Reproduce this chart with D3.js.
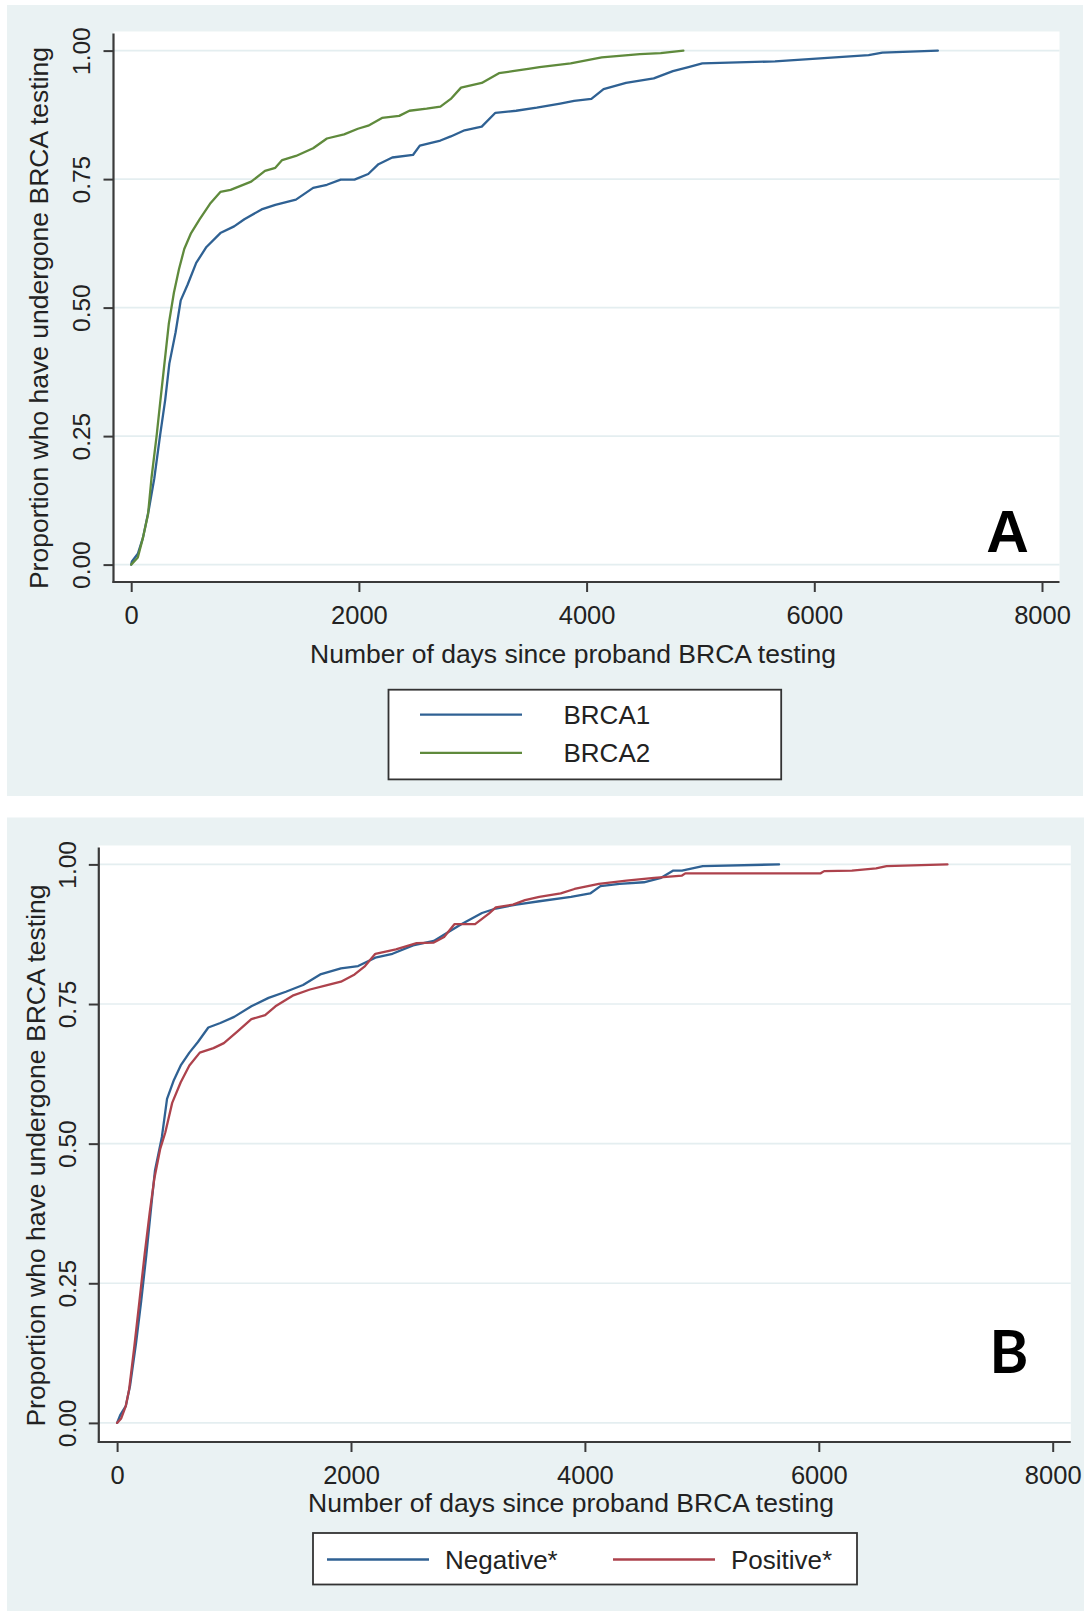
<!DOCTYPE html>
<html>
<head>
<meta charset="utf-8">
<script src="https://cdn.jsdelivr.net/npm/d3@7"></script>
<style>
  body { margin: 0; background: #fff; }
  svg { display: block; font-family: "Liberation Sans", Arial, sans-serif; }
</style>
</head>
<body>
<svg id="chart" width="1084" height="1611"></svg>
<script>
// Data: [days since proband testing, proportion tested]
let brca1 = [[0, 0], [6, .006], [58, .021], [103, .052], [154, .106], [203, .168], [254, .252], [299, .321], [335, .391], [390, .452], [435, .514], [496, .545], [571, .587], [661, .618], [783, .645], [904, .658], [994, .672], [1145, .691], [1266, .7], [1447, .71], [1598, .733], [1719, .739], [1840, .749], [1961, .749], [2082, .76], [2172, .779], [2293, .792], [2475, .797], [2535, .815], [2716, .825], [2807, .833], [2928, .845], [3079, .852], [3199, .879], [3381, .883], [3562, .889], [3768, .897], [3890, .902], [4042, .906], [4149, .925], [4346, .937], [4590, .946], [4758, .96], [4895, .968], [5016, .975], [5655, .979], [6051, .985], [6477, .991], [6598, .996], [7085, 1]]

let brca2 = [[0, 0], [58, .014], [103, .052], [148, .098], [178, .168], [224, .252], [254, .314], [284, .375], [330, .468], [375, .529], [420, .575], [466, .614], [526, .645], [602, .672], [692, .702], [783, .725], [873, .729], [1054, .745], [1175, .766], [1266, .772], [1326, .787], [1447, .795], [1598, .81], [1719, .829], [1870, .837], [1991, .848], [2082, .854], [2203, .869], [2354, .873], [2444, .883], [2595, .887], [2716, .891], [2807, .906], [2897, .928], [3079, .937], [3230, .956], [3351, .96], [3502, .965], [3586, .968], [3860, .975], [4133, .987], [4468, .993], [4651, .995], [4850, 1]]

let negative = [[0, 0], [29, .015], [74, .03], [112, .068], [162, .143], [206, .218], [250, .301], [294, .392], [324, .452], [383, .512], [427, .58], [486, .614], [544, .64], [618, .663], [691, .682], [780, .708], [883, .716], [1001, .727], [1148, .746], [1295, .761], [1443, .772], [1590, .784], [1737, .803], [1914, .814], [2061, .818], [2208, .833], [2355, .84], [2531, .855], [2708, .863], [2826, .878], [2943, .893], [3120, .913], [3238, .921], [3414, .928], [3610, .934], [3881, .942], [4045, .948], [4133, .961], [4297, .965], [4504, .968], [4652, .976], [4756, .989], [4830, .989], [4919, .993], [5008, .997], [5660, 1]]

let positive = [[0, 0], [35, .008], [74, .03], [103, .06], [147, .136], [191, .218], [235, .301], [279, .377], [318, .437], [368, .49], [412, .52], [471, .573], [544, .61], [618, .64], [707, .663], [824, .671], [913, .68], [1030, .701], [1148, .723], [1266, .73], [1354, .746], [1501, .765], [1649, .776], [1796, .784], [1914, .79], [2031, .803], [2120, .818], [2208, .84], [2384, .848], [2561, .859], [2708, .86], [2796, .87], [2884, .893], [3061, .893], [3179, .912], [3238, .923], [3385, .928], [3488, .936], [3610, .942], [3793, .948], [3911, .956], [4119, .965], [4355, .971], [4592, .976], [4830, .98], [4859, .984], [6016, .984], [6046, .988], [6283, .989], [6490, .993], [6579, .997], [7100, 1]]

let xTicks = [0, 2000, 4000, 6000, 8000]
let yTicks = [0, 0.25, 0.5, 0.75, 1]
let yTitle = 'Proportion who have undergone BRCA testing'
let xTitle = 'Number of days since proband BRCA testing'

let bgColor = '#eaf2f3'
let axisColor = '#3a3a3a'

let panels = [
  {
    tag: 'A',
    bg: [7, 5, 1076, 791],
    plot: [113.5, 31.5, 1059.5, 582],
    xRange: [131.2, 1042],
    yRange: [564.6, 50.6],
    yLabelX: 48,
    yLabelY: 318,
    yTickOffset: -23.5,
    xTitleX: 573,
    xTitleY: 662.7,
    tagX: 1007.5,
    tagY: 551.6,
    tagFont: '"Liberation Sans", Arial, sans-serif',
    legend: { box: [388.5, 689.7, 392.7, 89.7], layout: 'col' },
    series: [
      { name: 'BRCA1', data: brca1, color: '#2f6193' },
      { name: 'BRCA2', data: brca2, color: '#5f8a3c' }
    ]
  },
  {
    tag: 'B',
    bg: [7, 817.5, 1077, 793.5],
    plot: [98.8, 845.5, 1070.8, 1442],
    xRange: [117.1, 1052.7],
    yRange: [1422.9, 864.4],
    yLabelX: 45,
    yLabelY: 1155.5,
    yTickOffset: -23,
    xTitleX: 571,
    xTitleY: 1511.5,
    tagX: 1009,
    tagY: 1373.3,
    tagFont: 'Lato, "Open Sans", sans-serif',
    legend: { box: [313, 1533, 544, 51.5], layout: 'row' },
    series: [
      { name: 'Negative*', data: negative, color: '#2f6193' },
      { name: 'Positive*', data: positive, color: '#ad424c' }
    ]
  }
]

let svg = d3.select('#chart')

panels.forEach(p => {
  let g = svg.append('g').attr('class', 'panel-' + p.tag)

  // graph region and plot region backgrounds
  g.append('rect')
    .attr('x', p.bg[0]).attr('y', p.bg[1])
    .attr('width', p.bg[2]).attr('height', p.bg[3])
    .attr('fill', bgColor)

  g.append('rect')
    .attr('x', p.plot[0]).attr('y', p.plot[1])
    .attr('width', p.plot[2] - p.plot[0]).attr('height', p.plot[3] - p.plot[1])
    .attr('fill', '#fff')

  let xPositionScale = d3.scaleLinear().domain([0, 8000]).range(p.xRange)
  let yPositionScale = d3.scaleLinear().domain([0, 1]).range(p.yRange)

  // horizontal grid lines
  g.selectAll('.grid')
    .data(yTicks)
    .enter()
    .append('line')
    .attr('class', 'grid')
    .attr('x1', p.plot[0])
    .attr('x2', p.plot[2])
    .attr('y1', d => yPositionScale(d))
    .attr('y2', d => yPositionScale(d))
    .attr('stroke', '#e4eef0')
    .attr('stroke-width', 1.6)

  // the curves
  let line = d3
    .line()
    .x(d => xPositionScale(d[0]))
    .y(d => yPositionScale(d[1]))

  g.selectAll('.curve')
    .data(p.series)
    .enter()
    .append('path')
    .attr('class', 'curve')
    .attr('d', d => line(d.data))
    .attr('fill', 'none')
    .attr('stroke', d => d.color)
    .attr('stroke-width', 2.3)
    .attr('stroke-linejoin', 'round')
    .attr('stroke-linecap', 'round')

  // axes
  let yAxis = d3.axisLeft(yPositionScale)
    .tickValues(yTicks)
    .tickFormat(d3.format('.2f'))
    .tickSize(10)
  let yG = g.append('g')
    .attr('class', 'axis y-axis')
    .attr('transform', `translate(${p.plot[0]},0)`)
    .call(yAxis)
  yG.select('.domain').remove()
  yG.selectAll('.tick line').attr('stroke', axisColor).attr('stroke-width', 2)
  yG.selectAll('.tick text')
    .attr('transform', 'rotate(-90)')
    .attr('x', 0)
    .attr('y', p.yTickOffset)
    .attr('dy', null)
    .attr('text-anchor', 'middle')
    .attr('font-size', 24.5)
    .attr('font-family', null)
    .attr('fill', '#222')

  let xAxis = d3.axisBottom(xPositionScale)
    .tickValues(xTicks)
    .tickFormat(d3.format('d'))
    .tickSize(10)
  let xG = g.append('g')
    .attr('class', 'axis x-axis')
    .attr('transform', `translate(0,${p.plot[3]})`)
    .call(xAxis)
  xG.select('.domain').remove()
  xG.selectAll('.tick line').attr('stroke', axisColor).attr('stroke-width', 2)
  xG.selectAll('.tick text')
    .attr('y', 41.5)
    .attr('dy', null)
    .attr('font-size', 25.5)
    .attr('font-family', null)
    .attr('fill', '#222')

  // axis lines
  g.append('line')
    .attr('x1', p.plot[0]).attr('x2', p.plot[0])
    .attr('y1', p.plot[1] + 2).attr('y2', p.plot[3] + 1)
    .attr('stroke', axisColor).attr('stroke-width', 2.2)
  g.append('line')
    .attr('x1', p.plot[0] - 1).attr('x2', p.plot[2])
    .attr('y1', p.plot[3]).attr('y2', p.plot[3])
    .attr('stroke', axisColor).attr('stroke-width', 2.2)

  // axis titles
  g.append('text')
    .text(yTitle)
    .attr('transform', `translate(${p.yLabelX},${p.yLabelY}) rotate(-90)`)
    .attr('text-anchor', 'middle')
    .attr('font-size', 26.5)
    .attr('fill', '#222')

  g.append('text')
    .text(xTitle)
    .attr('x', p.xTitleX)
    .attr('y', p.xTitleY)
    .attr('text-anchor', 'middle')
    .attr('font-size', 26.5)
    .attr('fill', '#222')

  // panel letter
  g.append('text')
    .text(p.tag)
    .attr('x', p.tagX)
    .attr('y', p.tagY)
    .attr('text-anchor', 'middle')
    .attr('font-family', p.tagFont)
    .attr('font-weight', 'bold')
    .attr('font-size', 59)
    .attr('fill', '#000')

  // legend
  let lb = p.legend.box
  let leg = g.append('g').attr('class', 'legend')
  leg.append('rect')
    .attr('x', lb[0]).attr('y', lb[1])
    .attr('width', lb[2]).attr('height', lb[3])
    .attr('fill', '#fff')
    .attr('stroke', '#333')
    .attr('stroke-width', 1.8)

  let isCol = p.legend.layout === 'col'

  let items = leg.selectAll('.item')
    .data(p.series)
    .enter()
    .append('g')
    .attr('class', 'item')
    .attr('transform', (d, i) => {
      if (isCol) {
        return `translate(${lb[0] + 31.5},${lb[1] + 25 + i * 38.2})`
      }
      return `translate(${lb[0] + 14 + i * 286},${lb[1] + 26.5})`
    })

  items.append('line')
    .attr('x1', 0)
    .attr('x2', 102)
    .attr('y1', 0)
    .attr('y2', 0)
    .attr('stroke', d => d.color)
    .attr('stroke-width', 2.3)

  items.append('text')
    .text(d => d.name)
    .attr('x', isCol ? 143.5 : 118)
    .attr('y', 9.5)
    .attr('font-size', 26)
    .attr('fill', '#222')
})
</script>
</body>
</html>
